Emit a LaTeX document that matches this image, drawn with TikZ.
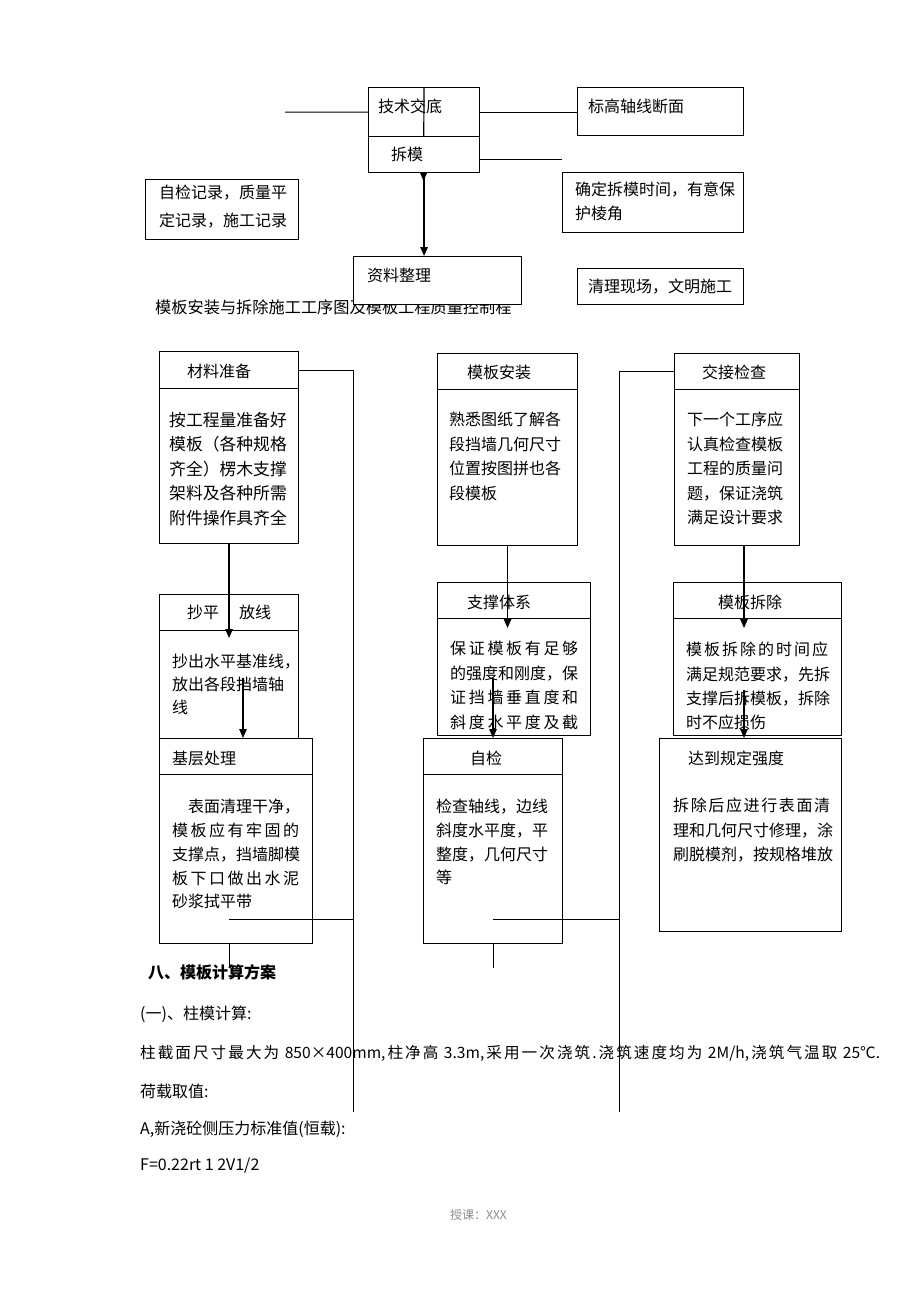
\documentclass[tikz,border=0pt]{standalone}
\usepackage{fontspec}
\setmainfont{Noto Sans CJK SC}
\usetikzlibrary{positioning, arrows.meta}

% spread the characters of a line over a given width
\def\spreadstop{\relax}
\def\spreadfirst#1{#1\spreadnext}
\def\spreadnext#1{\def\spreadarg{#1}\ifx\spreadarg\spreadstop\else\hfil#1\expandafter\spreadnext\fi}
\newcommand{\spreadline}[2]{\makebox[#1][s]{\spreadfirst#2\relax}}

\begin{document}
\begin{tikzpicture}[
    x=1pt, y=-1pt,
    box/.style={
        rectangle, draw=black, line width=1.1pt,
        inner sep=0pt, anchor=north west
    },
    plain/.style={inner sep=0pt, anchor=west, font=\fontsize{16}{20}\selectfont},
    body/.style={
        inner sep=0pt, anchor=north west, align=left,
        font=\fontsize{16}{24.5}\selectfont
    },
    link/.style={line width=1pt},
    flow/.style={line width=1.2pt, -{Triangle[length=9pt,width=7.5pt]}}
]

\useasboundingbox (0,0) rectangle (920,1302);
\fill[white] (0,0) rectangle (920,1302);

% Caption (partly hidden by the box above it)
\node[plain, font=\fontsize{16.2}{20}\selectfont] (cap) at (155,307)
{模板安装与拆除施工工序图及模板工程质量控制程};

% Top chain
\node[box, minimum width=111pt, minimum height=49pt] (jsjd) at (368,87) {};
\node[plain] (jsjd-t) at (378,106) {技术交底};
\coordinate (cmtip) at (423.5,181);
\draw[flow] (jsjd.north) -- (cmtip);
\node[box, fill=white, minimum width=111pt, minimum height=36pt] (cm) at (368,136) {};
\node[plain] (cm-t) at (391,154) {拆模};
\node[box, fill=white, minimum width=168pt, minimum height=48pt] (zlzl) at (353,256) {};
\node[plain] (zlzl-t) at (367,275) {资料整理};
\draw[flow] (cm.south) -- (cm.south |- zlzl.north);

% Top side notes
\node[box, minimum width=166pt, minimum height=48pt] (bgzx) at (577,87) {};
\node[plain] (bgzx-t) at (588,106) {标高轴线断面};
\node[box, minimum width=181pt, minimum height=60pt] (qdcm) at (562,172) {};
\node[body, font=\fontsize{16}{24}\selectfont] (qdcm-t) at (575,182)
{确定拆模时间，有意保\\护棱角};
\node[box, minimum width=166pt, minimum height=36pt] (qlxc) at (577,268) {};
\node[plain] (qlxc-t) at (588,287) {清理现场，文明施工};
\node[box, minimum width=153pt, minimum height=60pt] (zjjl) at (145,179) {};
\node[body, font=\fontsize{16}{28}\selectfont] (zjjl-t) at (159,185)
{自检记录，质量平\\定记录，施工记录};

\coordinate (ls) at (285,112);
\draw[link] (ls) -- (jsjd.west);
\draw[link] (jsjd.east) -- (jsjd.east -| bgzx.west);
\coordinate (cs) at (562,159);
\draw[link] (cs -| cm.east) -- (cs);

% Column 1
\node[box, minimum width=139pt, minimum height=37pt] (clzb) at (159,351) {};
\node[box, minimum width=139pt, minimum height=155pt] (clzb-b) at (159,388) {};
\node[plain] (clzb-t) at (187,371) {材料准备};
\node[body, font=\fontsize{16.8}{24.5}\selectfont] (clzb-p) at (169,412)
{按工程量准备好\\模板（各种规格\\齐全）楞木支撑\\架料及各种所需\\附件操作具齐全};

\node[box, minimum width=139pt, minimum height=36pt] (cpfx) at (159,594) {};
\node[box, minimum width=139pt, minimum height=108pt] (cpfx-b) at (159,630) {};
\node[plain] (cpfx-t) at (187,612) {抄平\hspace{20pt}放线};
\node[body, font=\fontsize{16}{23}\selectfont] (cpfx-p) at (172,654)
{抄出水平基准线，\\放出各段挡墙轴\\线};

\node[box, minimum width=153pt, minimum height=36pt] (jccl) at (159,738) {};
\node[box, minimum width=153pt, minimum height=169pt] (jccl-b) at (159,774) {};
\node[plain] (jccl-t) at (172,758) {基层处理};
\node[body, font=\fontsize{16}{23.8}\selectfont] (jccl-p) at (172,799)
{\hspace*{16pt}表面清理干净，\\\spreadline{127pt}{模板应有牢固的}\\支撑点，挡墙脚模\\\spreadline{127pt}{板下口做出水泥}\\砂浆拭平带};

% Column 2
\node[box, minimum width=140pt, minimum height=36pt] (mbaz) at (437,353) {};
\node[box, minimum width=140pt, minimum height=156pt] (mbaz-b) at (437,389) {};
\node[plain] (mbaz-t) at (467,372) {模板安装};
\node[body] (mbaz-p) at (449,412)
{熟悉图纸了解各\\段挡墙几何尺寸\\位置按图拼也各\\段模板};

\node[box, minimum width=153pt, minimum height=36pt] (zctx) at (437,582) {};
\node[box, minimum width=153pt, minimum height=117pt] (zctx-b) at (437,618) {};
\node[plain] (zctx-t) at (467,602) {支撑体系};
\node[body] (zctx-p) at (450,641)
{\spreadline{128pt}{保证模板有足够}\\的强度和刚度，保\\\spreadline{128pt}{证挡墙垂直度和}\\\spreadline{128pt}{斜度水平度及截}};

\node[box, minimum width=139pt, minimum height=36pt] (zj) at (423,738) {};
\node[box, minimum width=139pt, minimum height=169pt] (zj-b) at (423,774) {};
\node[plain] (zj-t) at (470,758) {自检};
\node[body, font=\fontsize{16}{23.7}\selectfont] (zj-p) at (436,799)
{检查轴线，边线\\斜度水平度，平\\整度，几何尺寸\\等};

% Column 3
\node[box, minimum width=125pt, minimum height=36pt] (jjjc) at (674,353) {};
\node[box, minimum width=125pt, minimum height=156pt] (jjjc-b) at (674,389) {};
\node[plain] (jjjc-t) at (702,372) {交接检查};
\node[body] (jjjc-p) at (687,412)
{下一个工序应\\认真检查模板\\工程的质量问\\题，保证浇筑\\满足设计要求};

\node[box, minimum width=168pt, minimum height=36pt] (mbcc) at (673,582) {};
\node[box, minimum width=168pt, minimum height=117pt] (mbcc-b) at (673,618) {};
\node[plain] (mbcc-t) at (718,602) {模板拆除};
\node[body, font=\fontsize{16}{24.3}\selectfont] (mbcc-p) at (686,642)
{\spreadline{142pt}{模板拆除的时间应}\\满足规范要求，先拆\\支撑后拆模板，拆除\\时不应损伤};

\node[box, minimum width=182pt, minimum height=193pt] (ddgd) at (659,738) {};
\node[plain] (ddgd-t) at (688,758) {达到规定强度};
\node[body] (ddgd-p) at (673,798)
{\spreadline{157pt}{拆除后应进行表面清}\\理和几何尺寸修理，涂\\刷脱模剂，按规格堆放};

% Flow arrows
\draw[flow, shorten >=-8pt] (clzb-b.south) -- (cpfx-b.north);
\coordinate (c1) at (243,678);
\draw[flow] (c1) -- (c1 |- jccl.north);
\draw[flow, shorten >=-10pt] (mbaz-b.south) -- (mbaz-b.south |- zctx-b.north);
\coordinate (c2) at (493,678);
\draw[flow] (c2) -- (c2 |- zj.north);
\coordinate (c3) at (744,690);
\draw[flow, shorten >=-10pt] (c3 |- jjjc-b.south) -- (c3 |- mbcc-b.north);
\draw[flow] (c3) -- (c3 |- ddgd.north);

% Long links
\coordinate (r1) at (353,1112);
\draw[link] (clzb.east) -| (r1);
\coordinate (h1) at (229,919);
\draw[link] (h1) -- (h1 -| r1);
\coordinate (t1) at (229,968);
\draw[link] (t1 |- jccl-b.south) -- (t1);
\coordinate (r2) at (619,1112);
\draw[link] (jjjc.west) -| (r2);
\coordinate (h2) at (493,919);
\draw[link] (h2) -- (h2 -| r2);
\coordinate (t2) at (493,968);
\draw[link] (t2 |- zj-b.south) -- (t2);

% Text below
\node[plain, font=\fontsize{16}{20}\selectfont\bfseries] (s8) at (148,972) {八、模板计算方案};
\node[plain] (s81) at (140,1014) {(一)、柱模计算:};
\node[plain, font=\fontsize{15.6}{20}\selectfont] (s82) at (140,1053)
{\spreadline{740pt}{柱截面尺寸最大为{ 850×400mm,}柱净高{ 3.3m,}采用一次浇筑{.}浇筑速度均为{ 2M/h,}浇筑气温取{ 25℃.}}};
\node[plain] (s83) at (140,1091) {荷载取值:};
\node[plain] (s84) at (140,1129) {A,新浇砼侧压力标准值(恒载):};
\node[plain] (s85) at (140,1166) {F=0.22rt 1 2V1/2};
\node[plain, font=\fontsize{12}{14}\selectfont, text=black!45] (foot) at (450,1215) {授课：XXX};

\end{tikzpicture}
\end{document}
